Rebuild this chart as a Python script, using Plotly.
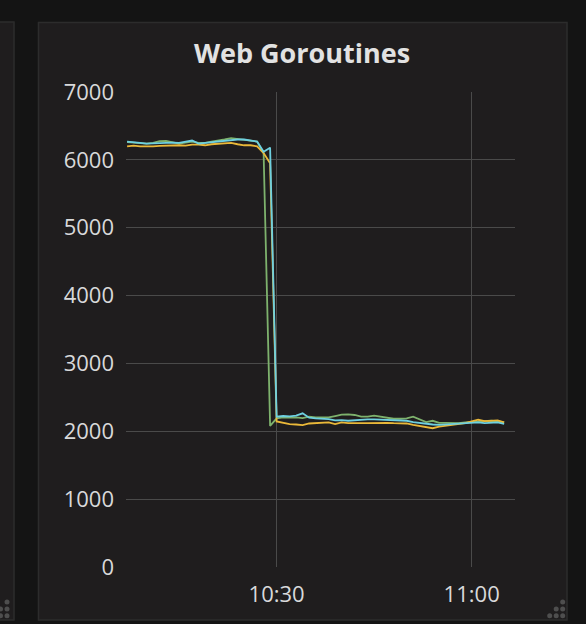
import pandas as pd
import plotly.graph_objects as go

# ---- data (1-minute samples 10:07 .. 11:05) ----
times = pd.date_range("2017-01-01 10:07", "2017-01-01 11:05", freq="1min")

green_top = [6260, 6250, 6245, 6240, 6250, 6275, 6280, 6265, 6240, 6255, 6270,
             6250, 6250, 6270, 6280, 6300, 6320, 6310, 6290, 6280, 6270, 6100, 2080]
yellow_top = [6200, 6210, 6200, 6195, 6200, 6205, 6210, 6220, 6215, 6210, 6225,
              6225, 6215, 6230, 6240, 6240, 6250, 6230, 6215, 6215, 6200, 6100, 5950]
cyan_top = [6270, 6265, 6250, 6240, 6245, 6255, 6260, 6255, 6250, 6265, 6285,
            6240, 6250, 6265, 6270, 6280, 6290, 6300, 6300, 6290, 6270, 6120, 6180]

green_bottom = [2190, 2205, 2200, 2205, 2195, 2215, 2205, 2200, 2205, 2225, 2245, 2250,
                2240, 2215, 2215, 2230, 2215, 2190, 2185, 2185, 2190, 2215, 2175, 2135,
                2155, 2125, 2125, 2120, 2120, 2130, 2135, 2140, 2145, 2155, 2145, 2130]
yellow_bottom = [2145, 2120, 2105, 2100, 2090, 2115, 2120, 2115, 2130, 2105, 2130, 2120,
                 2115, 2120, 2120, 2125, 2120, 2125, 2120, 2115, 2115, 2095, 2080, 2070,
                 2045, 2070, 2080, 2095, 2105, 2120, 2145, 2170, 2150, 2155, 2160, 2130]
cyan_bottom = [2215, 2225, 2220, 2230, 2265, 2200, 2190, 2190, 2180, 2160, 2165, 2155,
               2165, 2170, 2175, 2175, 2170, 2160, 2165, 2160, 2155, 2135, 2120, 2105,
               2100, 2095, 2100, 2105, 2105, 2115, 2125, 2130, 2120, 2125, 2130, 2110]

series = [
    ("web-1", green_top + green_bottom, "#7EB26D"),
    ("web-2", yellow_top + yellow_bottom, "#EAB839"),
    ("web-3", cyan_top + cyan_bottom, "#6ED0E0"),
]

y_ticks = [0, 1000, 2000, 3000, 4000, 5000, 6000, 7000]
x_ticks = ["2017-01-01 10:30", "2017-01-01 11:00"]
x_tick_text = ["10:30", "11:00"]

# ---- layout geometry ----
W, H = 586, 624
L, R, T, B = 126, 515, 92, 567
PW, PH = R - L, B - T


def px(x):
    return (x - L) / PW


def py(y):
    return (B - y) / PH


fig = go.Figure()
for name, vals, color in series:
    fig.add_trace(go.Scatter(x=times, y=vals, mode="lines", name=name,
                             line=dict(color=color, width=1.8)))

shapes = []
# left neighbouring panel
shapes.append(dict(type="rect", xref="paper", yref="paper", layer="below",
                   x0=px(-10), x1=px(14), y0=py(620), y1=py(22),
                   fillcolor="#1f1d1e", line=dict(color="#2c2c2c", width=1.5)))
# main panel
shapes.append(dict(type="rect", xref="paper", yref="paper", layer="below",
                   x0=px(38.5), x1=px(567), y0=py(620), y1=py(22.5),
                   fillcolor="#1f1d1e", line=dict(color="#2c2c2c", width=1.5)))
# resize handle dots
for ox in (562.7, 7):
    for dx, dy in [(0, 0), (-6.5, 0), (-13, 0), (0, -6.8), (-6.5, -6.8), (0, -13.6)]:
        cx, cy = ox + dx, 615.7 + dy
        shapes.append(dict(type="circle", xref="paper", yref="paper", layer="below",
                           x0=px(cx - 2.5), x1=px(cx + 2.5), y0=py(cy + 2.5), y1=py(cy - 2.5),
                           fillcolor="#4e4e4e", line=dict(width=0)))

fig.update_layout(
    width=W, height=H,
    margin=dict(l=L, r=W - R, t=T, b=H - B, pad=0),
    paper_bgcolor="#141414",
    plot_bgcolor="rgba(0,0,0,0)",
    showlegend=False,
    shapes=shapes,
    title=dict(text="<b>Web Goroutines</b>", x=302 / W,
               xanchor="center", y=1 - 54 / H, yanchor="middle",
               font=dict(family="Open Sans", size=27, color="#e2e2e2")),
    font=dict(family="Open Sans", size=22, color="#d8d9da"),
    xaxis=dict(range=["2017-01-01 10:06:50", "2017-01-01 11:06:40"],
               tickvals=x_ticks, ticktext=x_tick_text,
               showgrid=True, gridcolor="#4a4a4a", gridwidth=1,
               zeroline=False, showline=False, ticks="", ticklabelstandoff=12,
               tickfont=dict(size=22, color="#d8d9da")),
    yaxis=dict(range=[0, 7000], tickvals=y_ticks,
               showgrid=True, gridcolor="#4a4a4a", gridwidth=1,
               zeroline=False, showline=False, ticks="", ticklabelstandoff=11,
               tickfont=dict(size=22, color="#d8d9da")),
)

fig.write_html("out.html", config={"displayModeBar": False},
               post_script="document.body.style.margin='0';document.body.style.overflow='hidden';")
